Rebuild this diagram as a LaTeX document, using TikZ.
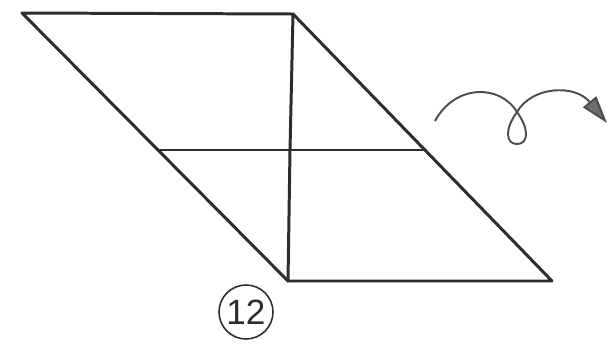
\documentclass[tikz,border=0pt]{standalone}
\usepackage{fontspec}
\setmainfont{Liberation Sans}
\usetikzlibrary{arrows.meta}

\definecolor{ink}{RGB}{45,45,45}

\begin{document}
\begin{tikzpicture}[
  x=0.02cm, y=-0.02cm,
  edge/.style={draw=ink, line width=1.7pt, line cap=round, line join=round},
  turn/.style={draw=ink!85, line width=1.1pt, -{Triangle[length=5.5mm, width=3.4mm, fill=ink!70]}},
  stepno/.style={draw=ink, circle, line width=0.9pt, inner sep=0pt, minimum size=1.08cm,
                 font=\fontsize{20}{24}\selectfont, text=ink}
]
\useasboundingbox (0,0) rectangle (608,345);

% corners of the sheet
\coordinate (tl) at (22,13);
\coordinate (tr) at (293,14);
\coordinate (br) at (552,281);
\coordinate (bl) at (288,281);
% crease ends
\coordinate (ml) at (158,150);
\coordinate (mr) at (425,150);
\coordinate (mc) at (290,150);

\draw[edge] (tl) -- (tr) -- (br) -- (bl) -- cycle;
\draw[edge] (ml) -- (mr);
\draw[edge] (tr) -- (mc) -- (bl);

% turn over
\coordinate (ts) at (435,121);
\coordinate (tx) at (517,112);
\coordinate (te) at (607,123);
\draw[turn] (ts) .. controls (455,84) and (500,84) .. (tx)
  .. controls (530,130) and (528,144) .. (517,144)
  .. controls (506,144) and (504,130) .. (tx)
  .. controls (532,86) and (575,84) .. (te);

\node[stepno] (num) at (246,312) {12};
\end{tikzpicture}
\end{document}
